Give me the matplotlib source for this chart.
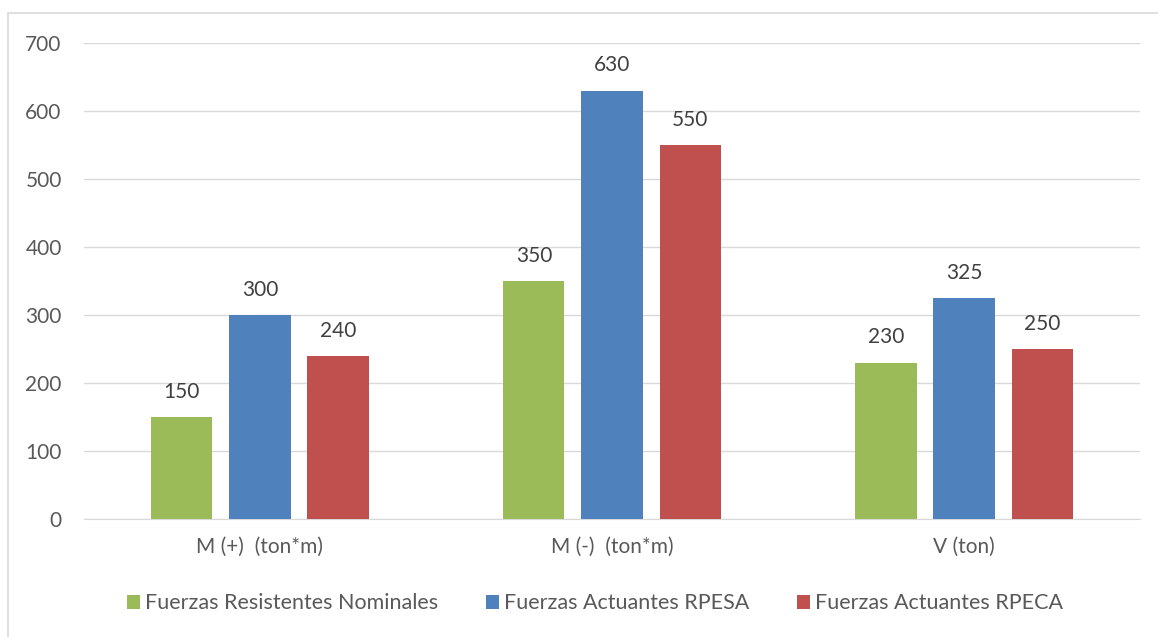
import numpy as np
import matplotlib.pyplot as plt
from matplotlib.patches import Rectangle

# Datos
categorias = ['M (+)  (ton*m)', 'M (-)  (ton*m)', 'V (ton)']
series = ['Fuerzas Resistentes Nominales', 'Fuerzas Actuantes RPESA', 'Fuerzas Actuantes RPECA']
resistentes = [150, 350, 230]
rpesa = [300, 630, 325]
rpeca = [240, 550, 250]
colores = ['#9BBB59', '#4F81BD', '#C0504D']

plt.rcParams['font.family'] = ['Lato', 'DejaVu Sans']
texto = '#595959'

fig = plt.figure(figsize=(11.58, 6.37), dpi=100)
ax = fig.add_axes([0.0725, 0.185, 0.912, 0.7475])

x = np.arange(len(categorias))
ancho = 0.174
paso = 0.222
for i, (vals, nombre, c) in enumerate(zip([resistentes, rpesa, rpeca], series, colores)):
    barras = ax.bar(x + (i - 1) * paso, vals, ancho, color=c, label=nombre, zorder=3)
    ax.bar_label(barras, padding=11, fontsize=15, color='#404040')

ax.set_xlim(-0.5, 2.5)
ax.set_ylim(0, 700)
ax.set_yticks(range(0, 701, 100))
ax.set_xticks(x)
ax.set_xticklabels(categorias)
ax.tick_params(axis='both', length=0, labelsize=15, colors=texto)
ax.tick_params(axis='y', pad=16)
ax.tick_params(axis='x', pad=13)
ax.grid(axis='y', color='#D9D9D9', linewidth=1, zorder=0)
for s in ['top', 'right', 'left']:
    ax.spines[s].set_visible(False)
ax.spines['bottom'].set_color('#D9D9D9')

ax.legend(loc='upper center', bbox_to_anchor=(0.484, -0.115), ncol=3, frameon=False,
          fontsize=15.5, labelcolor=texto, handlelength=0.6, handleheight=0.6,
          handletextpad=0.25, columnspacing=2.2)

# marco exterior
fig.patches.append(Rectangle((8 / 1158, -0.01), 1.02, 1 - 13 / 637 + 0.01,
                             transform=fig.transFigure, fill=False,
                             edgecolor='#D9D9D9', linewidth=1.2))

fig.savefig('out.png', dpi=100)
